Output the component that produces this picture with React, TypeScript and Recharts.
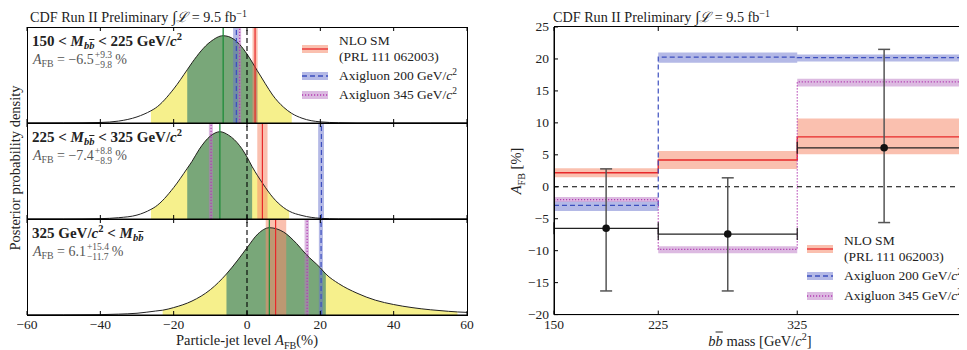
import React from "react";
import {
  ComposedChart,
  Line,
  Area,
  Scatter,
  ErrorBar,
  XAxis,
  YAxis,
  ReferenceLine,
  ReferenceArea,
} from "recharts";

const SERIF = '"Liberation Serif", "DejaVu Serif", serif';

// b-bbar mass bins [GeV/c^2]
const binEdges = [150, 225, 325, 450];

// measured particle-jet level A_FB per bin [%]
const afbValue = [-6.5, -7.4, 6.1];
const afbErrUp = [9.3, 8.8, 15.4];
const afbErrDown = [9.8, 8.9, 11.7];

// predictions per bin [%]
const nloValue = [2.2, 4.2, 7.8];
const nloLow = [1.5, 2.8, 5.1];
const nloHigh = [2.9, 5.6, 10.7];
const axi200Value = [-2.9, 20.3, 20.2];
const axi200Low = [-3.8, 19.4, 19.6];
const axi200High = [-2.3, 21.0, 20.7];
const axi345Value = [-2.0, -9.8, 16.4];
const axi345Low = [-2.4, -10.4, 15.7];
const axi345High = [-1.6, -9.3, 16.9];

// posterior densities (peak = 1)
const post1X = [-60, -50, -45, -40, -35, -30, -26.2, -25, -20, -16.3, -15, -10, -6.5, -5, -2, 0, 2.8, 5, 7, 10, 12.2, 15, 20, 25, 30, 40, 50, 60];
const post1Y = [0, 0.001, 0.002, 0.006, 0.022, 0.07, 0.14, 0.17, 0.39, 0.61, 0.69, 0.93, 1.0, 0.99, 0.9, 0.79, 0.6, 0.45, 0.32, 0.18, 0.11, 0.055, 0.013, 0.003, 0, 0, 0, 0];
const post2X = [-60, -50, -45, -40, -35, -30, -26.2, -25, -20, -16.3, -15, -13, -10, -7.4, -5, -2, 0, 1.4, 4.4, 7, 10, 11.5, 15, 20, 25, 30, 40, 50, 60];
const post2Y = [0, 0, 0.001, 0.004, 0.015, 0.045, 0.11, 0.14, 0.36, 0.58, 0.66, 0.8, 0.95, 1.0, 0.96, 0.84, 0.71, 0.6, 0.4, 0.25, 0.13, 0.09, 0.04, 0.008, 0.001, 0, 0, 0, 0];
const post3X = [-60, -50, -40, -35, -30, -25, -23, -20, -15, -10, -5.6, -2.5, 0, 3, 6.1, 10, 13.5, 16, 20, 21.5, 25, 30, 35, 40, 45, 50, 55, 57.4, 60];
const post3Y = [0, 0.001, 0.004, 0.01, 0.02, 0.045, 0.055, 0.085, 0.16, 0.29, 0.47, 0.63, 0.77, 0.93, 1.0, 0.95, 0.82, 0.7, 0.54, 0.47, 0.36, 0.25, 0.17, 0.12, 0.085, 0.06, 0.042, 0.035, 0.03];

// outer (yellow) band edges per panel; inner band is value -/+ errors
const outerLow = [-26.2, -26.2, -23.0];
const outerHigh = [12.2, 11.5, 57.4];

const leftTicks = [-60, -40, -20, 0, 20, 40, 60];
const rightYTicks = [-20, -15, -10, -5, 0, 5, 10, 15, 20, 25];
const rightXTicks = [150, 225, 325];

const postX = [post1X, post2X, post3X];
const postY = [post1Y, post2Y, post3Y];

const RED = "#e8282a";
const RED_BAND = "rgba(246,140,110,0.55)";
const BLUE = "#3c4fbf";
const BLUE_BAND = "rgba(105,115,205,0.5)";
const PURPLE = "#b23cb2";
const PURPLE_BAND = "rgba(185,118,195,0.5)";
const YELLOW = "#f6f08c";
const GREEN = "#79a779";
const GREEN_LINE = "#1e8c3a";

const PANEL_H = 96; // left sub-panel plot height
const RIGHT_H = 287.6; // right plot height
const EPS = 1e-6;

const fmt = (v: number) => (v < 0 ? "\u2212" : "") + Math.abs(v);

function Sup({ children }: { children: React.ReactNode }) {
  return <span style={{ fontSize: "0.7em", position: "relative", top: "-0.55em", lineHeight: 0 }}>{children}</span>;
}
function Sub({ children }: { children: React.ReactNode }) {
  return <span style={{ fontSize: "0.7em", position: "relative", top: "0.35em", lineHeight: 0 }}>{children}</span>;
}
function Stack({ up, down }: { up: string; down: string }) {
  const longest = up.length > down.length ? up : down;
  return (
    <span style={{ position: "relative", display: "inline-block", fontSize: "0.68em", lineHeight: "1em", margin: "0 3px 0 1px" }}>
      <span style={{ visibility: "hidden" }}>{longest}</span>
      <span style={{ position: "absolute", left: 0, top: "-0.55em" }}>{up}</span>
      <span style={{ position: "absolute", left: 0, top: "0.5em" }}>{down}</span>
    </span>
  );
}
const BB = () => (
  <span style={{ fontStyle: "italic" }}>
    b<span style={{ textDecoration: "overline" }}>b</span>
  </span>
);
const GeVc2 = () => (
  <>
    GeV/<i>c</i>
    <Sup>2</Sup>
  </>
);

function Txt({ x, y, children, style }: { x: number; y: number; children: React.ReactNode; style?: React.CSSProperties }) {
  return (
    <div style={{ position: "absolute", left: x, top: y, transform: "translateY(-50%)", whiteSpace: "nowrap", lineHeight: "16px", ...style }}>
      {children}
    </div>
  );
}

function Box({ x, y, w, h }: { x: number; y: number; w: number; h: number }) {
  return (
    <div style={{ position: "absolute", left: x - 0.5, top: y - 0.5, width: w + 1, height: h + 1, border: "1px solid #000", boxSizing: "border-box", pointerEvents: "none" }} />
  );
}

function Lumi() {
  return (
    <>
      CDF Run II Preliminary <span style={{ fontSize: "1.1em" }}>∫</span>
      <i>ℒ</i> = 9.5 fb<Sup>−1</Sup>
    </>
  );
}

// ---- tick renderers: inward marks at bottom and top, labels outside ----
const bottomTick = (withLabel: boolean, plotH: number) => (p: any) => (
  <g>
    <line x1={p.x} x2={p.x} y1={p.y} y2={p.y - 4} stroke="#000" />
    <line x1={p.x} x2={p.x} y1={p.y - plotH} y2={p.y - plotH + 4} stroke="#000" />
    {withLabel ? (
      <text x={p.x} y={p.y + 14} textAnchor="middle" fontFamily={SERIF} fontSize={13.5} fill="#222">
        {fmt(p.payload.value)}
      </text>
    ) : null}
  </g>
);
const leftTick = (p: any) => (
  <g>
    <line x1={p.x} x2={p.x + 4} y1={p.y} y2={p.y} stroke="#000" />
    <text x={p.x - 5} y={p.y} dy="0.3em" textAnchor="end" fontFamily={SERIF} fontSize={13.5} fill="#222">
      {fmt(p.payload.value)}
    </text>
  </g>
);

// ---- legend ----
function Swatch({ color, band, dash }: { color: string; band: string; dash?: string }) {
  return (
    <svg width={26} height={12} style={{ display: "block" }}>
      <rect x={0} y={2} width={26} height={8} fill={band} />
      <line x1={0} x2={26} y1={6} y2={6} stroke={color} strokeWidth={1.3} strokeDasharray={dash} />
    </svg>
  );
}

function ModelLegend({ x, y1, y2, y3 }: { x: number; y1: number; y2: number; y3: number }) {
  return (
    <>
      <div style={{ position: "absolute", left: x, top: y1 - 6 }}>
        <Swatch color={RED} band={RED_BAND} />
      </div>
      <Txt x={x + 37} y={y1 - 8}>NLO SM</Txt>
      <Txt x={x + 37} y={y1 + 8}>(PRL 111 062003)</Txt>
      <div style={{ position: "absolute", left: x, top: y2 - 6 }}>
        <Swatch color={BLUE} band={BLUE_BAND} dash="5 3" />
      </div>
      <Txt x={x + 37} y={y2}>
        Axigluon 200 <GeVc2 />
      </Txt>
      <div style={{ position: "absolute", left: x, top: y3 - 6 }}>
        <Swatch color={PURPLE} band={PURPLE_BAND} dash="1.2 1.8" />
      </div>
      <Txt x={x + 37} y={y3}>
        Axigluon 345 <GeVc2 />
      </Txt>
    </>
  );
}

// ---- left: one posterior sub-panel ----
function PosteriorPanel({ i, top, last }: { i: number; top: number; last: boolean }) {
  const inLo = afbValue[i] - afbErrDown[i];
  const inHi = afbValue[i] + afbErrUp[i];
  const rows = postX[i].map((x, k) => {
    const d = postY[i][k];
    return {
      x,
      d,
      outer: x >= outerLow[i] - EPS && x <= outerHigh[i] + EPS ? d : null,
      inner: x >= inLo - EPS && x <= inHi + EPS ? d : null,
    };
  });
  const axH = last ? 22 : 1;
  const ax = { xAxisId: "b", yAxisId: "l" };
  return (
    <div style={{ position: "absolute", left: 17, top }}>
      <ComposedChart width={460} height={PANEL_H + axH} data={rows} margin={{ top: 0, right: 10, bottom: 0, left: 10 }}>
        <XAxis xAxisId="b" type="number" dataKey="x" domain={[-60, 60]} ticks={leftTicks} height={axH} tickSize={0} tickMargin={0} tick={bottomTick(last, PANEL_H)} axisLine={{ stroke: "#000" }} allowDataOverflow interval={0} />
        <YAxis yAxisId="l" type="number" domain={[0, 1.1]} hide allowDataOverflow />
        <Area {...ax} type="monotone" dataKey="outer" stroke="none" fill={YELLOW} fillOpacity={1} dot={false} activeDot={false} isAnimationActive={false} />
        <Area {...ax} type="monotone" dataKey="inner" stroke="none" fill={GREEN} fillOpacity={1} dot={false} activeDot={false} isAnimationActive={false} />
        <ReferenceArea {...ax} x1={nloLow[i]} x2={nloHigh[i]} fill={RED_BAND} fillOpacity={1} stroke="none" />
        <ReferenceArea {...ax} x1={axi200Low[i]} x2={axi200High[i]} fill={BLUE_BAND} fillOpacity={1} stroke="none" />
        <ReferenceArea {...ax} x1={axi345Low[i]} x2={axi345High[i]} fill={PURPLE_BAND} fillOpacity={1} stroke="none" />
        <Line {...ax} type="monotone" dataKey="d" stroke="#222" strokeWidth={1} dot={false} activeDot={false} isAnimationActive={false} />
        <ReferenceLine {...ax} x={afbValue[i]} stroke={GREEN_LINE} strokeWidth={1.3} />
        <ReferenceLine {...ax} x={0} stroke="#000" strokeDasharray="5 3" strokeWidth={1.1} />
        <ReferenceLine {...ax} x={nloValue[i]} stroke={RED} strokeWidth={1.2} />
        <ReferenceLine {...ax} x={axi200Value[i]} stroke={BLUE} strokeDasharray="5 3" strokeWidth={1.2} />
        <ReferenceLine {...ax} x={axi345Value[i]} stroke={PURPLE} strokeDasharray="1.2 1.8" strokeWidth={1.2} />
      </ComposedChart>
    </div>
  );
}

function BinLabel({ i }: { i: number }) {
  const m = (
    <>
      <i>M</i>
      <Sub>
        <BB />
      </Sub>
    </>
  );
  if (i === 2)
    return (
      <b>
        {binEdges[2]} <GeVc2 /> &lt; {m}
      </b>
    );
  return (
    <b>
      {binEdges[i]} &lt; {m} &lt; {binEdges[i + 1]} <GeVc2 />
    </b>
  );
}

function AfbLabel({ i }: { i: number }) {
  return (
    <span style={{ color: "#555" }}>
      <i>A</i>
      <Sub>FB</Sub> = {fmt(afbValue[i])}
      <Stack up={"+" + afbErrUp[i]} down={fmt(-afbErrDown[i])} />%
    </span>
  );
}

// ---- right: A_FB vs mass ----
function MassPanel() {
  const steps = binEdges.map((x, k) => {
    const b = Math.min(k, afbValue.length - 1);
    return {
      x,
      nlo: nloValue[b],
      nloBand: [nloLow[b], nloHigh[b]],
      a200: axi200Value[b],
      a200Band: [axi200Low[b], axi200High[b]],
      a345: axi345Value[b],
      a345Band: [axi345Low[b], axi345High[b]],
    };
  });
  const points = afbValue.map((y, b) => ({
    x: (binEdges[b] + binEdges[b + 1]) / 2,
    y,
    ey: [afbErrDown[b], afbErrUp[b]],
    ex: (binEdges[b + 1] - binEdges[b]) / 2,
  }));
  const ax = { xAxisId: "b", yAxisId: "l" };
  return (
    <div style={{ position: "absolute", left: 514, top: 16.7 }}>
      <ComposedChart width={457} height={RIGHT_H + 40} data={steps} margin={{ top: 10, right: 0, bottom: 0, left: 0 }}>
        <XAxis xAxisId="b" type="number" dataKey="x" domain={[150, 450]} ticks={rightXTicks} height={30} tickSize={0} tickMargin={0} tick={bottomTick(true, RIGHT_H)} axisLine={{ stroke: "#000" }} allowDataOverflow interval={0} />
        <YAxis yAxisId="l" type="number" domain={[-20, 25]} ticks={rightYTicks} width={40} tickSize={0} tickMargin={0} tick={leftTick} axisLine={{ stroke: "#000" }} allowDataOverflow interval={0} />
        <ReferenceLine {...ax} y={0} stroke="#000" strokeDasharray="5 4" strokeWidth={1.1} />
        <Area {...ax} type="stepAfter" dataKey="nloBand" stroke="none" fill={RED_BAND} fillOpacity={1} dot={false} activeDot={false} isAnimationActive={false} />
        <Area {...ax} type="stepAfter" dataKey="a200Band" stroke="none" fill={BLUE_BAND} fillOpacity={1} dot={false} activeDot={false} isAnimationActive={false} />
        <Area {...ax} type="stepAfter" dataKey="a345Band" stroke="none" fill={PURPLE_BAND} fillOpacity={1} dot={false} activeDot={false} isAnimationActive={false} />
        <Line {...ax} type="stepAfter" dataKey="nlo" stroke={RED} strokeWidth={1.4} dot={false} activeDot={false} isAnimationActive={false} />
        <Line {...ax} type="stepAfter" dataKey="a200" stroke={BLUE} strokeWidth={1.2} strokeDasharray="5 3" dot={false} activeDot={false} isAnimationActive={false} />
        <Line {...ax} type="stepAfter" dataKey="a345" stroke={PURPLE} strokeWidth={1.2} strokeDasharray="1.2 1.8" dot={false} activeDot={false} isAnimationActive={false} />
        <Scatter
          {...ax}
          data={points}
          dataKey="y"
          isAnimationActive={false}
          shape={(p: any) => <circle cx={p.cx} cy={p.cy} r={3.8} fill="#111" />}
        >
          <ErrorBar dataKey="ey" direction="y" width={6} stroke="#555" strokeWidth={1.5} />
          <ErrorBar dataKey="ex" direction="x" width={6} stroke="#222" strokeWidth={1.2} />
        </Scatter>
      </ComposedChart>
    </div>
  );
}

export default function App() {
  return (
    <div
      style={{
        position: "relative",
        left: -8,
        top: -8,
        width: 967,
        height: 350,
        overflow: "hidden",
        background: "#fff",
        fontFamily: SERIF,
        fontSize: 13.5,
        color: "#222",
      }}
    >
      <PosteriorPanel i={0} top={27} last={false} />
      <PosteriorPanel i={1} top={123} last={false} />
      <PosteriorPanel i={2} top={219} last={true} />
      <MassPanel />

      {/* frames */}
      <Box x={27} y={27} w={440} h={PANEL_H} />
      <Box x={27} y={123} w={440} h={PANEL_H} />
      <Box x={27} y={219} w={440} h={PANEL_H} />
      <Box x={554} y={26.7} w={417} h={RIGHT_H} />

      <Txt x={30} y={17} style={{ fontSize: 14.2 }}>
        <Lumi />
      </Txt>
      <Txt x={553} y={17} style={{ fontSize: 14.2 }}>
        <Lumi />
      </Txt>

      {[27, 123, 219].map((t, i) => (
        <React.Fragment key={i}>
          <Txt x={32} y={t + 13.5} style={{ fontSize: 15 }}>
            <BinLabel i={i} />
          </Txt>
          <Txt x={33} y={t + 32.5} style={{ fontSize: 14 }}>
            <AfbLabel i={i} />
          </Txt>
        </React.Fragment>
      ))}

      <ModelLegend x={302} y1={49} y2={76} y3={95} />
      <ModelLegend x={807} y1={249} y2={276} y3={296} />

      <div style={{ position: "absolute", left: 15, top: 168, transform: "translate(-50%, -50%) rotate(-90deg)", whiteSpace: "nowrap", fontSize: 14.5 }}>
        Posterior probability density
      </div>
      <div style={{ position: "absolute", left: 247, top: 340, transform: "translate(-50%, -50%)", whiteSpace: "nowrap", fontSize: 14.5 }}>
        Particle-jet level <i>A</i>
        <Sub>FB</Sub>(%)
      </div>
      <div style={{ position: "absolute", left: 516, top: 171, transform: "translate(-50%, -50%) rotate(-90deg)", whiteSpace: "nowrap", fontSize: 14.5 }}>
        <i>A</i>
        <Sub>FB</Sub> [%]
      </div>
      <div style={{ position: "absolute", left: 760, top: 341, transform: "translate(-50%, -50%)", whiteSpace: "nowrap", fontSize: 14.5 }}>
        <BB /> mass [<GeVc2 />]
      </div>
    </div>
  );
}
